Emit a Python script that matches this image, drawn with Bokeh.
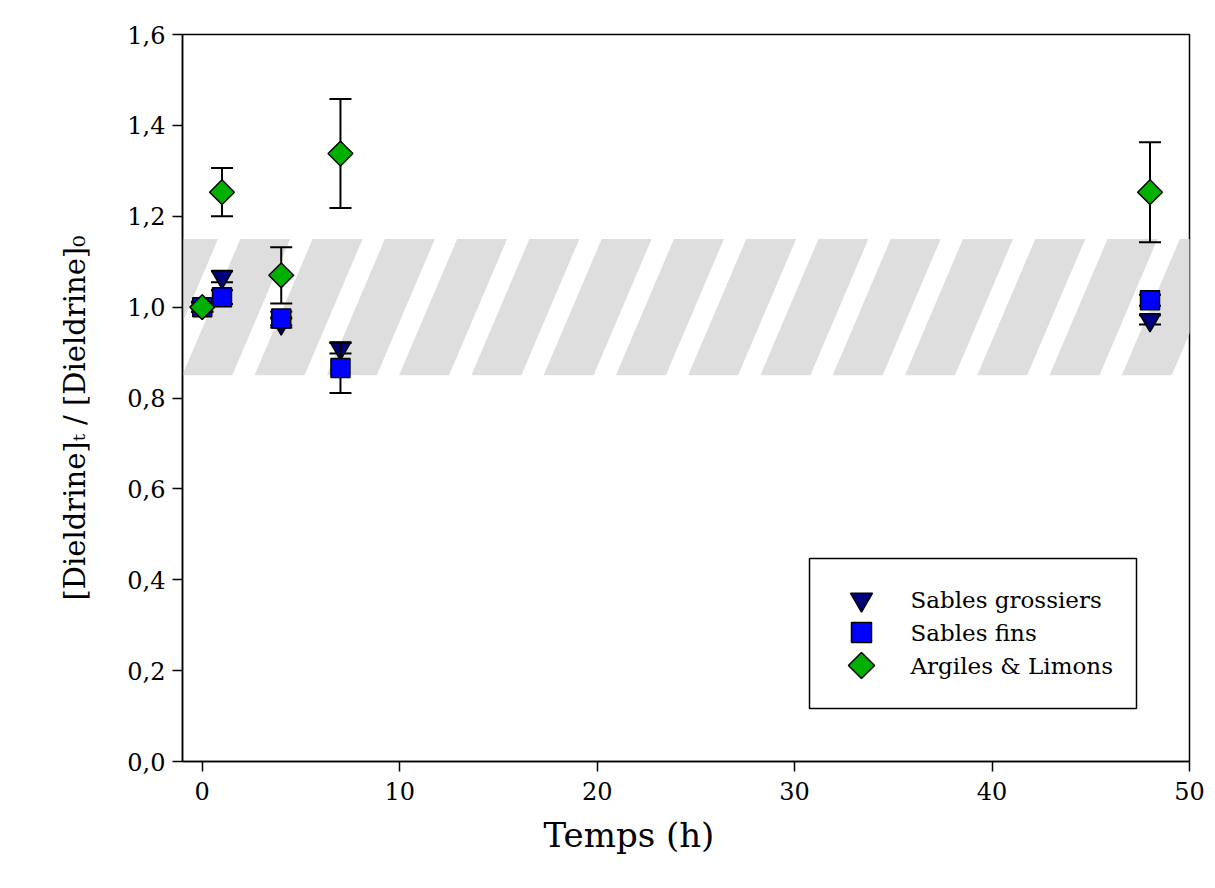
import math
from bokeh.plotting import figure
from bokeh.models import FixedTicker, CustomJSTickFormatter, Range1d, ColumnDataSource, Title
from bokeh.core.properties import value
from bokeh.embed import file_html
from bokeh.resources import INLINE

# ---- data ----
temps = [0, 1, 4, 7, 48]
grossiers = [1.0, 1.067, 0.965, 0.91, 0.972]
grossiers_err = [0.01, 0.012, 0.01, 0.012, 0.01]
fins = [1.0, 1.022, 0.975, 0.866, 1.015]
fins_err = [0.01, 0.015, 0.015, 0.055, 0.012]
argiles = [1.0, 1.253, 1.07, 1.338, 1.253]
argiles_err = [0.01, 0.053, 0.062, 0.12, 0.11]

series_names = ["Sables grossiers", "Sables fins", "Argiles & Limons"]
x_ticks = [0, 10, 20, 30, 40, 50]
y_ticks = [0.0, 0.2, 0.4, 0.6, 0.8, 1.0, 1.2, 1.4, 1.6]
x_title = "Temps (h)"
y_title = "[Dieldrine]\u209c / [Dieldrine]\u2080"

# reference band (hatched) limits
band_low, band_high = 0.85, 1.15

FONT = "DejaVu Serif"

# ---- layout constants (pixels) ----
X0, X1, Y0, Y1 = -1.0, 50.0, 0.0, 1.6
LEFT, TOP, FW, FH = 182, 34, 1007, 727
W, H = 1208, 878

def px_x(px):
    return X0 + (px - LEFT) / FW * (X1 - X0)

def px_y(py):
    return Y1 - (py - TOP) / FH * (Y1 - Y0)

p = figure(width=W, height=H, output_backend="svg", toolbar_location=None,
           x_range=Range1d(X0, X1), y_range=Range1d(Y0, Y1),
           min_border_left=LEFT, min_border_right=W - LEFT - FW,
           min_border_top=TOP, min_border_bottom=H - TOP - FH)
p.outline_line_color = "black"
p.outline_line_width = 1.5
p.grid.visible = False
p.background_fill_color = "white"
p.border_fill_color = "white"

# ---- hatched band: gray parallelograms slanted "/" ----
period, gray_w, shift, start = 3.66, 2.53, 2.94, 1.93
xs, ys = [], []
k = -2
while True:
    x0 = start + k * period
    if x0 - shift > X1 + 2:
        break
    xs.append([x0 - shift, x0 - shift + gray_w, x0 + gray_w, x0])
    ys.append([band_low, band_low, band_high, band_high])
    k += 1
p.patches(xs, ys, fill_color="#dedede", line_color=None)

# ---- series ----
specs = [
    (grossiers, grossiers_err, "inverted_triangle", 21, 0, "#00007a"),
    (fins, fins_err, "square", 19, 0, "#0000ff"),
    (argiles, argiles_err, "square", 17.5, math.pi / 4, "#00b000"),
]
for vals, errs, marker, size, ang, color in specs:
    src = ColumnDataSource(dict(x=temps, y=vals,
                                lo=[v - e for v, e in zip(vals, errs)],
                                hi=[v + e for v, e in zip(vals, errs)]))
    p.segment(x0="x", y0="lo", x1="x", y1="hi", source=src,
              line_color="black", line_width=2)
    p.scatter("x", "lo", source=src, marker="dash", size=22,
              line_color="black", line_width=2)
    p.scatter("x", "hi", source=src, marker="dash", size=22,
              line_color="black", line_width=2)
    p.scatter("x", "y", source=src, marker=marker, size=size, angle=ang,
              fill_color=color, line_color="black", line_width=1.5)

# ---- axes ----
for ax in (p.xaxis[0], p.yaxis[0]):
    ax.axis_line_color = "black"
    ax.axis_line_width = 1.5
    ax.major_tick_line_color = "black"
    ax.major_tick_line_width = 1.5
    ax.major_tick_in = 0
    ax.major_tick_out = 10
    ax.minor_tick_line_color = None
    ax.major_label_text_font = FONT
    ax.major_label_text_color = "black"

p.xaxis.ticker = FixedTicker(ticks=x_ticks)
p.yaxis.ticker = FixedTicker(ticks=y_ticks)
p.yaxis.formatter = CustomJSTickFormatter(code="return tick.toFixed(1).replace('.', ',');")
p.xaxis.major_label_text_font_size = "24px"
p.yaxis.major_label_text_font_size = "24px"
p.xaxis.major_label_standoff = 10
p.yaxis.major_label_standoff = 7

# axis titles, placed off-centre like the reference
p.add_layout(Title(text=x_title, align="left", offset=543 - LEFT, standoff=20,
                   text_font=FONT, text_font_size="34px", text_font_style="normal",
                   text_color="black"), "below")
p.add_layout(Title(text=y_title, align="left", offset=(TOP + FH) - 600, standoff=66,
                   text_font=FONT, text_font_size="29px", text_font_style="normal",
                   text_color="black"), "left")

# ---- legend (drawn by hand so the diamond keeps its shape) ----
LG_L, LG_R, LG_T, LG_B = 809, 1136, 558, 708
LG_MX, LG_TX = 861, 910
LG_ROWS = [599, 632, 665]
p.quad(left=[px_x(LG_L)], right=[px_x(LG_R)], top=[px_y(LG_T)], bottom=[px_y(LG_B)],
       fill_color="white", line_color="black", line_width=1.5)
leg_markers = [("inverted_triangle", 22, 0, "#00007a"),
               ("square", 20, 0, "#0000ff"),
               ("square", 18.5, math.pi / 4, "#00b000")]
for (marker, size, ang, color), row, name in zip(leg_markers, LG_ROWS, series_names):
    p.scatter([px_x(LG_MX)], [px_y(row)], marker=marker, size=size, angle=ang,
              fill_color=color, line_color="black", line_width=1.5)
    p.text([px_x(LG_TX)], [px_y(row)], text=[name], text_font=value(FONT),
           text_font_size="23px", text_baseline="middle", text_align="left",
           text_color="black")

open("out.html", "w").write(file_html(p, INLINE))
